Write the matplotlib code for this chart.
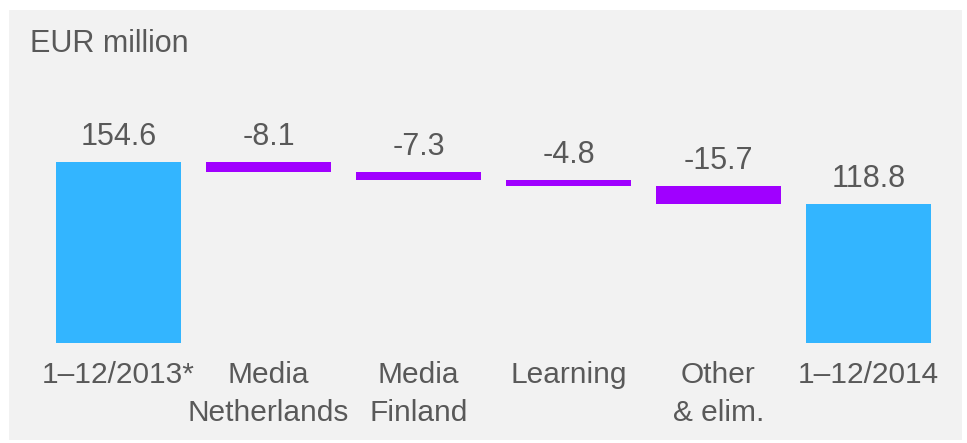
import matplotlib.pyplot as plt
from matplotlib.patches import Rectangle

categories = ["1\u201312/2013*", "Media\nNetherlands", "Media\nFinland", "Learning", "Other\n& elim.", "1\u201312/2014"]
start_value = 154.6
changes = [-8.1, -7.3, -4.8, -15.7]
end_value = 118.8
value_labels = ["154.6", "-8.1", "-7.3", "-4.8", "-15.7", "118.8"]

blue = "#33b5ff"
purple = "#a000ff"
txt = "#595959"

plt.rcParams['font.family'] = ['Liberation Sans', 'DejaVu Sans']

fig = plt.figure(figsize=(9.67, 4.43), dpi=100, facecolor="white")
fig.patches.append(Rectangle((9 / 967, 1 - 440 / 443), 953 / 967, 430 / 443,
                             transform=fig.transFigure, facecolor="#f2f2f2",
                             edgecolor="none", zorder=-10))

ax = fig.add_axes([0, 0, 1, 1])
ax.set_facecolor("none")
ax.set_xlim(-0.79, 5.657)
ax.set_ylim(-85.4, 293.0)
ax.axis("off")

# waterfall bars
bottoms, heights, colors, tops = [], [], [], []
running = start_value
bottoms.append(0); heights.append(start_value); colors.append(blue); tops.append(start_value)
for c in changes:
    new = running + c
    bottoms.append(min(running, new)); heights.append(abs(c)); colors.append(purple)
    tops.append(max(running, new))
    running = new
bottoms.append(0); heights.append(end_value); colors.append(blue); tops.append(end_value)

xs = list(range(len(categories)))
ax.bar(xs, heights, bottom=bottoms, width=0.833, color=colors, zorder=2)

for x, top, lab in zip(xs, tops, value_labels):
    ax.annotate(lab, (x, top), xytext=(0, 17), textcoords="offset pixels",
                ha="center", va="baseline", fontsize=22, color=txt)

for x, cat in zip(xs, categories):
    ax.annotate(cat, (x, 0), xytext=(0, -18), textcoords="offset pixels",
                ha="center", va="top", fontsize=21.5, color=txt,
                linespacing=1.45)

fig.text(30 / 967, 1 - 52 / 443, "EUR million", fontsize=22, color=txt,
         ha="left", va="baseline")

fig.savefig("out.png", dpi=100, facecolor="white")
